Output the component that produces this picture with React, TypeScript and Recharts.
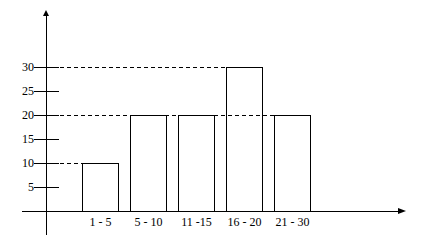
import React from 'react';
import { BarChart, Bar, XAxis, YAxis, ReferenceLine, LabelList } from 'recharts';

const categories = ['1 - 5', '5 - 10', '11 -15', '16 - 20', '21 - 30'];
const frequencies = [10, 20, 20, 30, 20];
const yTicks = [5, 10, 15, 20, 25, 30];
const yDomain: [number, number] = [-5, 41.46];

const data = categories.map((range, i) => ({ range, value: frequencies[i] }));

const FONT = '"Liberation Serif", "Times New Roman", serif';
const AXIS_X = 46;

const YTick = (props: any) => {
  const { y, payload } = props;
  return (
    <g>
      <line x1={AXIS_X - 12} x2={AXIS_X + 13} y1={y} y2={y} stroke="#000" strokeWidth={1} shapeRendering="crispEdges" />
      <text x={AXIS_X - 12} y={y} textAnchor="end" dominantBaseline="central" fontFamily={FONT} fontSize={12} fill="#000">
        {payload.value}
      </text>
    </g>
  );
};

const BarShape = (props: any) => {
  const { x, y, width, height } = props;
  return (
    <g>
      <line x1={AXIS_X} x2={x} y1={y} y2={y} stroke="#000" strokeWidth={1} strokeDasharray="4 3" shapeRendering="crispEdges" />
      <rect x={x} y={y} width={width} height={height} fill="none" stroke="#000" strokeWidth={1} shapeRendering="crispEdges" />
    </g>
  );
};

const BarLabel = (props: any) => {
  const { x, y, width, height, value } = props;
  return (
    <text
      x={Number(x) + Number(width) / 2}
      y={Number(y) + Number(height) + 11}
      textAnchor="middle"
      dominantBaseline="central"
      fontFamily={FONT}
      fontSize={12}
      fill="#000"
    >
      {value}
    </text>
  );
};

const XAxisArrow = (props: any) => {
  const { x1, x2, y1 } = props;
  return (
    <g>
      <line x1={x1 - 24} x2={x2 - 4} y1={y1} y2={y1} stroke="#000" strokeWidth={1} shapeRendering="crispEdges" />
      <polygon points={`${x2},${y1} ${x2 - 8},${y1 - 3} ${x2 - 8},${y1 + 3}`} fill="#000" />
    </g>
  );
};

const YAxisArrow = (props: any) => {
  const { x1, y1 } = props;
  return <polygon points={`${x1},${y1 - 2} ${x1 - 3},${y1 + 4} ${x1 + 3},${y1 + 4}`} fill="#000" />;
};

export default function App() {
  return (
    <div style={{ position: 'absolute', left: 0, top: 0, background: '#fff' }}>
      <BarChart width={421} height={244} data={data} margin={{ top: 12, right: 15, bottom: 9, left: 0 }}>
        <XAxis dataKey="range" hide padding={{ left: 30.5, right: 89.5 }} />
        <YAxis
          width={46}
          type="number"
          domain={yDomain}
          ticks={yTicks}
          allowDataOverflow
          axisLine={{ stroke: '#000', strokeWidth: 1, shapeRendering: 'crispEdges' }}
          tickLine={false}
          tick={<YTick />}
        />
        <Bar dataKey="value" barSize={36} shape={<BarShape />} isAnimationActive={false}>
          <LabelList dataKey="range" content={<BarLabel />} />
        </Bar>
        <ReferenceLine y={0} shape={<XAxisArrow />} ifOverflow="visible" />
        <ReferenceLine y={yDomain[1]} shape={<YAxisArrow />} ifOverflow="visible" />
      </BarChart>
    </div>
  );
}
